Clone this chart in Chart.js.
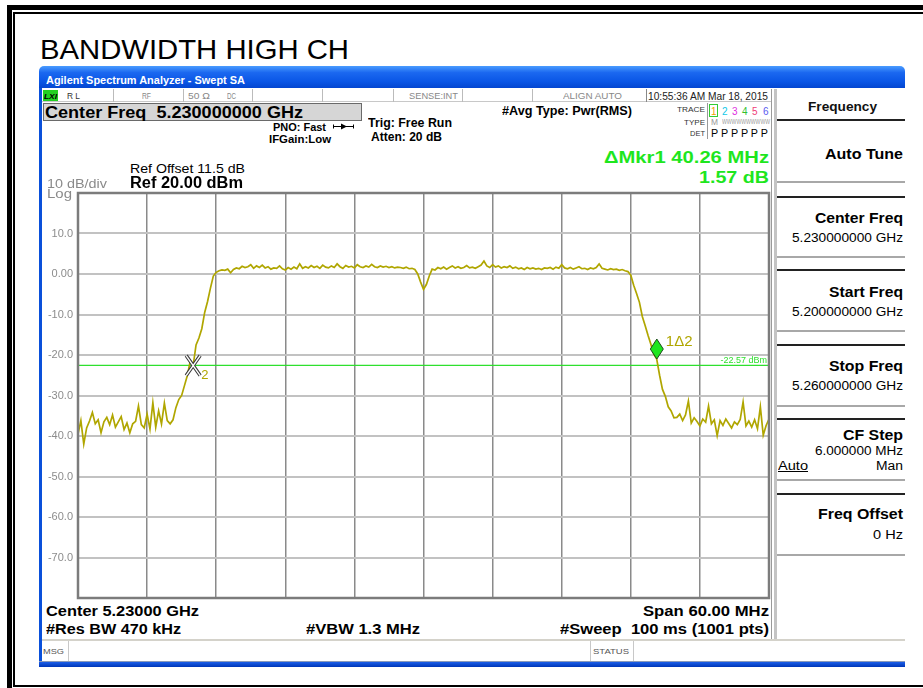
<!DOCTYPE html>
<html>
<head>
<meta charset="utf-8">
<title>Bandwidth High CH</title>
<script src="https://cdn.jsdelivr.net/npm/chart.js@4.4.1/dist/chart.umd.min.js"></script>
<style>
  body { margin: 0; width: 923px; height: 688px; overflow: hidden; background: #fff; position: relative;
         font-family: "Liberation Sans", Arial, sans-serif; }
  .box { position: absolute; box-sizing: border-box; }
  .lbl { position: absolute; line-height: 1; white-space: pre; transform-origin: 0 0; z-index: 3; }
  #sa { position: absolute; left: 40px; top: 190px; z-index: 2; }
</style>
</head>
<body>
<!-- page frame -->
<div class="box" style="left:7px;top:5px;width:940px;height:700px;border:5px solid #000;"></div>
<div class="box" style="left:13px;top:12px;width:930px;height:675px;border:2px solid #000;"></div>

<!-- analyzer window -->
<div class="box" style="left:39px;top:66px;width:866px;height:22px;border-radius:5px 5px 0 0;
     background:linear-gradient(#4a9cff 0%, #1b68f0 30%, #0a56e6 70%, #0346d0 100%);"></div>
<div class="box" style="left:39px;top:88px;width:3px;height:578px;background:#0a50da;"></div>
<div class="box" style="left:39px;top:661px;width:866px;height:6px;border-top:1px solid #8a99b8;
     background:linear-gradient(#1b5ee8, #0036b8);"></div>

<!-- status row -->
<div class="box" style="left:42px;top:89px;width:730px;height:13px;border-bottom:1px solid #c8c8c8;"></div>
<div class="box" style="left:43px;top:90px;width:15px;height:11px;background:#22d022;"></div>
<div class="box" style="left:113px;top:89px;width:1px;height:13px;background:#bbb;"></div>
<div class="box" style="left:183px;top:89px;width:1px;height:13px;background:#bbb;"></div>
<div class="box" style="left:252px;top:89px;width:1px;height:13px;background:#bbb;"></div>
<div class="box" style="left:322px;top:89px;width:1px;height:13px;background:#bbb;"></div>
<div class="box" style="left:393px;top:89px;width:1px;height:13px;background:#bbb;"></div>
<div class="box" style="left:462px;top:89px;width:1px;height:13px;background:#bbb;"></div>
<div class="box" style="left:532px;top:89px;width:1px;height:13px;background:#bbb;"></div>
<div class="box" style="left:646px;top:89px;width:1px;height:13px;background:#888;"></div>

<!-- center freq box -->
<div class="box" style="left:43px;top:103px;width:319px;height:18px;background:#d6d6d6;border:1px solid #6a6a6a;"></div>

<!-- trace info box -->
<div class="box" style="left:707px;top:103px;width:1px;height:36px;background:#999;"></div>
<div class="box" style="left:709px;top:104px;width:9px;height:13px;border:1px solid #3c3;"></div>

<!-- PNO arrow -->
<svg class="box" style="left:332px;top:122px;z-index:3" width="24" height="9">
  <line x1="1" y1="4.5" x2="22" y2="4.5" stroke="#000" stroke-width="1"/>
  <polygon points="9,1.5 15,4.5 9,7.5" fill="#000"/>
  <line x1="1.5" y1="2.5" x2="1.5" y2="6.5" stroke="#000"/>
  <line x1="21.5" y1="2.5" x2="21.5" y2="6.5" stroke="#000"/>
</svg>

<!-- right softkey panel -->
<div class="box" style="left:771px;top:89px;width:1px;height:551px;background:#9a9a9a;"></div>
<div class="box" style="left:774px;top:89px;width:3px;height:551px;background:#c4c4c4;"></div>
<div class="box" style="left:777px;top:89px;width:128px;height:32px;border-bottom:2px solid #222;"></div>
<div class="box" style="left:777px;top:121px;width:128px;height:62px;border-bottom:2px solid #a8a8a8;"></div>
<div class="box" style="left:777px;top:196px;width:128px;height:62px;border-top:2px solid #222;border-bottom:2px solid #a8a8a8;"></div>
<div class="box" style="left:777px;top:269px;width:128px;height:63px;border-top:2px solid #222;border-bottom:2px solid #a8a8a8;"></div>
<div class="box" style="left:777px;top:344px;width:128px;height:63px;border-top:2px solid #222;border-bottom:2px solid #a8a8a8;"></div>
<div class="box" style="left:777px;top:418px;width:128px;height:63px;border-top:2px solid #222;border-bottom:2px solid #a8a8a8;"></div>
<div class="box" style="left:777px;top:493px;width:128px;height:63px;border-top:2px solid #222;border-bottom:2px solid #a8a8a8;"></div>

<!-- message row -->
<div class="box" style="left:42px;top:639px;width:863px;height:2px;background:#d4d2ca;"></div>
<div class="box" style="left:68px;top:641px;width:1px;height:20px;background:#c8c8c8;"></div>
<div class="box" style="left:590px;top:641px;width:1px;height:20px;background:#c8c8c8;"></div>
<div class="box" style="left:633px;top:641px;width:1px;height:20px;background:#c8c8c8;"></div>

<canvas id="sa" width="735" height="412" style="width:735px;height:412px;"></canvas>

<script>
// ---- sweep data ----
const START_MHZ = 5200;
const STOP_MHZ = 5260;
const STEP_MHZ = 0.25;
const GRID_STEP_MHZ = 6;
const REF_LEVEL_DBM = 20;
const BOTTOM_LEVEL_DBM = -80;
const DB_PER_DIV = 10;

// trace 1, one value every 0.25 MHz from 5200 to 5260 MHz
const LEVELS_DBM = [
  -39.5, -36.2, -42.0, -38.0, -36.3, -34.2, -37.0, -36.0, -39.2, -36.5,
  -35.4, -37.2, -34.8, -37.8, -36.5, -35.2, -38.4, -36.8, -39.2, -37.0,
  -36.4, -32.6, -37.2, -38.0, -34.6, -38.3, -31.8, -37.8, -33.8, -37.0,
  -31.9, -36.2, -37.0, -36.0, -33.0, -31.0, -30.0, -27.5, -25.0, -21.5,
  -22.6, -17.5, -15.8, -13.5, -9.5, -6.8, -3.5, -0.5, 0.4, 0.8,
  1.0, 0.9, 1.2, 0.3, 1.1, 1.5, 1.3, 1.9, 1.6, 1.8,
  2.3, 1.4, 2.0, 1.6, 2.2, 1.5, 1.8, 1.2, 1.5, 1.4,
  2.0, 1.3, 1.0, 1.6, 1.2, 1.7, 1.3, 2.5, 1.4, 1.8,
  1.5, 2.1, 1.6, 1.9, 1.4, 2.2, 1.7, 1.5, 2.0, 1.6,
  2.5, 1.8, 1.4, 2.1, 1.7, 1.9, 1.5, 2.3, 1.8, 1.6,
  2.0, 1.7, 2.4, 1.8, 1.6, 2.0, 1.7, 1.9, 1.6, 1.8,
  1.5, 1.7, 1.6, 1.4, 1.7, 1.3, 1.4, 1.1, 0.0, -2.0,
  -3.8, -2.6, -0.5, 1.2, 1.0, 1.6, 1.3, 1.7, 1.2, 1.6,
  2.0, 1.5, 1.8, 1.4, 1.6, 2.1, 1.5, 1.7, 1.4, 1.8,
  2.2, 3.2, 2.0, 1.6, 2.3, 1.7, 2.0, 1.5, 1.8, 1.6,
  2.0, 1.4, 1.7, 1.3, 1.5, 1.1, 1.6, 1.3, 1.5, 1.2,
  1.4, 1.1, 1.5, 1.4, 1.6, 1.2, 1.7, 1.4, 2.3, 1.5,
  1.3, 1.6, 1.2, 1.5, 1.8, 1.3, 1.4, 1.1, 1.5, 1.3,
  1.6, 2.5, 1.4, 1.2, 1.0, 1.3, 1.1, 1.2, 0.9, 1.1,
  0.8, 0.6, -0.3, -2.8, -4.8, -7.0, -10.5, -12.8, -15.2, -17.4,
  -19.8, -21.0, -25.0, -28.5, -30.2, -32.8, -33.8, -35.5, -35.4, -34.6,
  -36.2, -34.8, -31.4, -36.8, -35.5, -36.4, -37.5, -35.8, -36.6, -32.6,
  -37.0, -36.0, -39.9, -36.2, -37.4, -35.8, -36.9, -38.0, -36.5, -37.2,
  -35.9, -31.6, -37.5, -36.3, -37.8, -36.0, -38.2, -32.8, -39.8, -37.4,
  -35.8
];

const MARKER_FREQS_MHZ = [5250.26, 5210.0];   // marker 1 (delta), marker 2 (reference)
const MARKER_LABELS = ['1\u03942', '2'];
const DISPLAY_LINE_DBM = -22.57;

const TRACE_COLOR = '#b0a600';
const READOUT_GREEN = '#1ee61e';
const FONT = '"Liberation Sans", Arial, sans-serif';

// ---- screen annotations: [text, x, baseline, size, weight, color, align, width] ----
const LABELS = [
  ['BANDWIDTH HIGH CH', 40, 58, 28, '400', '#000', 'left', 309],
  ['Agilent Spectrum Analyzer - Swept SA', 46, 83, 10.5, '700', '#fff', 'left', 199],
  ['LXI', 44, 99, 8, 'italic 700', '#000', 'left', 13],
  ['R L', 67, 99, 9, '400', '#333', 'left', 13],
  ['RF', 142, 99, 9, '400', '#888', 'left', 9],
  ['50 \u03a9', 188, 99, 9, '400', '#888', 'left', 22],
  ['DC', 227, 99, 9, '400', '#888', 'left', 9],
  ['SENSE:INT', 409, 99, 9, '400', '#888', 'left', 49],
  ['ALIGN AUTO', 563, 99, 9, '400', '#888', 'left', 59],
  ['10:55:36 AM Mar 18, 2015', 648, 99.5, 10, '400', '#222', 'left', 120],
  ['Center Freq  5.230000000 GHz', 45, 118, 16, '700', '#000', 'left', 258],
  ['PNO: Fast', 273, 130, 11, '700', '#000', 'left', 53],
  ['IFGain:Low', 269, 142, 11, '700', '#000', 'left', 62],
  ['Trig: Free Run', 368, 126, 12, '700', '#000', 'left', 84],
  ['Atten: 20 dB', 371, 140, 12, '700', '#000', 'left', 71],
  ['#Avg Type: Pwr(RMS)', 502, 114, 12, '700', '#000', 'left', 130],
  ['TRACE', 705, 112, 8, '400', '#333', 'right', 28],
  ['TYPE', 705, 125, 8, '400', '#333', 'right', 21],
  ['DET', 705, 136, 8, '400', '#333', 'right', 15],
  ['1', 711, 114, 10, '400', '#f0a000', 'left', null],
  ['2', 722, 114, 10, '400', '#10c8e8', 'left', null],
  ['3', 732, 114, 10, '400', '#e030e0', 'left', null],
  ['4', 742, 114, 10, '400', '#30c030', 'left', null],
  ['5', 752, 114, 10, '400', '#f03c78', 'left', null],
  ['6', 763, 114, 10, '400', '#5a5af0', 'left', null],
  ['M', 711, 125, 9, '400', '#999', 'left', 7],
  ['WWWWWWWWWW', 722, 124, 8, '400', '#999', 'left', 48],
  ['P P P P P P', 711, 136, 10, '400', '#000', 'left', 57],
  ['\u0394Mkr1 40.26 MHz', 769, 163, 16, '700', READOUT_GREEN, 'right', 165],
  ['1.57 dB', 769, 182.5, 16, '700', READOUT_GREEN, 'right', 70],
  ['Ref Offset 11.5 dB', 130, 172.5, 13, '400', '#000', 'left', 115],
  ['Ref 20.00 dBm', 130, 188, 16, '700', '#000', 'left', 113],
  ['10 dB/div', 47, 187.5, 12, '400', '#8a8a8a', 'left', 60],
  ['Log', 47, 197, 12, '400', '#8a8a8a', 'left', 25],
  ['Center 5.23000 GHz', 46, 615, 14, '700', '#000', 'left', 153],
  ['Span 60.00 MHz', 769, 615, 14, '700', '#000', 'right', 126],
  ['#Res BW 470 kHz', 46, 633, 14, '700', '#000', 'left', 135],
  ['#VBW 1.3 MHz', 306, 633, 14, '700', '#000', 'left', 114],
  ['#Sweep  100 ms (1001 pts)', 769, 633, 14, '700', '#000', 'right', 209],
  ['MSG', 43, 654, 8, '400', '#555', 'left', 21],
  ['STATUS', 593, 654, 8, '400', '#555', 'left', 36],
  ['Frequency', 808, 110, 13.5, '700', '#111', 'left', 69],
  ['Auto Tune', 903, 158, 14.5, '700', '#000', 'right', 78],
  ['Center Freq', 903, 222, 14, '700', '#000', 'right', 88],
  ['5.230000000 GHz', 903, 241, 12, '400', '#000', 'right', 111],
  ['Start Freq', 903, 296, 14, '700', '#000', 'right', 74],
  ['5.200000000 GHz', 903, 315, 12, '400', '#000', 'right', 111],
  ['Stop Freq', 903, 370, 14, '700', '#000', 'right', 74],
  ['5.260000000 GHz', 903, 389, 12, '400', '#000', 'right', 111],
  ['CF Step', 903, 439, 14, '700', '#000', 'right', 60],
  ['6.000000 MHz', 903, 454, 12, '400', '#000', 'right', 88],
  ['Auto', 778, 469, 12, '400', '#000', 'left', 30],
  ['Man', 903, 469, 12, '400', '#000', 'right', 27],
  ['Freq Offset', 903, 518, 14, '700', '#000', 'right', 85],
  ['0 Hz', 903, 538, 12, '400', '#000', 'right', 30]
];

function addLabel([text, x, base, size, weight, color, align, width]) {
  const el = document.createElement('div');
  el.className = 'lbl';
  el.textContent = text;
  el.style.font = `${weight} ${size}px ${FONT}`;
  el.style.color = color;
  if (text === 'Auto') el.style.textDecoration = 'underline';
  document.body.appendChild(el);
  const natural = el.getBoundingClientRect().width;
  const w = width || natural;
  el.style.left = (align === 'right' ? x - w : x) + 'px';
  el.style.top = (base - 0.8465 * size) + 'px';   // line-height 1: baseline sits 0.8465em below the top
  if (width) el.style.transform = `scaleX(${width / natural})`;
}
LABELS.forEach(addLabel);

// ---- chart ----
const tracePoints = LEVELS_DBM.map((v, i) => ({ x: START_MHZ + i * STEP_MHZ, y: v }));
const levelAt = f => LEVELS_DBM[Math.round((f - START_MHZ) / STEP_MHZ)];

// markers, display line label and graticule frame
const analyzerOverlay = {
  id: 'analyzerOverlay',
  afterDatasetsDraw(chart) {
    const { ctx, chartArea: a, scales: { x, y } } = chart;
    ctx.save();

    // display line readout
    const dl = y.getPixelForValue(DISPLAY_LINE_DBM);
    ctx.font = `9px ${FONT}`;
    ctx.fillStyle = '#2ee02e';
    ctx.textAlign = 'right';
    ctx.textBaseline = 'alphabetic';
    ctx.fillText(DISPLAY_LINE_DBM.toFixed(2) + ' dBm', a.right - 2, dl - 2);

    // marker 2: reference X
    const x2 = x.getPixelForValue(MARKER_FREQS_MHZ[1]);
    const y2 = y.getPixelForValue(levelAt(MARKER_FREQS_MHZ[1]));
    [['#3a3a3a', 3.5], ['#ffffff', 1.4]].forEach(([c, w]) => {
      ctx.strokeStyle = c;
      ctx.lineWidth = w;
      ctx.beginPath();
      ctx.moveTo(x2 - 7, y2 - 10); ctx.lineTo(x2 + 7, y2 + 10);
      ctx.moveTo(x2 + 7, y2 - 10); ctx.lineTo(x2 - 7, y2 + 10);
      ctx.stroke();
    });
    ctx.font = `13px ${FONT}`;
    ctx.fillStyle = TRACE_COLOR;
    ctx.textAlign = 'left';
    ctx.fillText(MARKER_LABELS[1], x2 + 8, y2 + 13);

    // marker 1: delta diamond, tip sitting on the trace
    const x1 = x.getPixelForValue(MARKER_FREQS_MHZ[0]);
    const y1 = y.getPixelForValue(levelAt(MARKER_FREQS_MHZ[0]));
    ctx.beginPath();
    ctx.moveTo(x1, y1);
    ctx.lineTo(x1 + 6.5, y1 - 10);
    ctx.lineTo(x1, y1 - 20);
    ctx.lineTo(x1 - 6.5, y1 - 10);
    ctx.closePath();
    ctx.fillStyle = '#1ee61e';
    ctx.fill();
    ctx.strokeStyle = '#1c4a1c';
    ctx.lineWidth = 1;
    ctx.stroke();
    ctx.font = `15px ${FONT}`;
    ctx.fillStyle = TRACE_COLOR;
    ctx.fillText(MARKER_LABELS[0], x1 + 9, y1 - 13);

    // graticule frame
    ctx.strokeStyle = '#7c7c7c';
    ctx.lineWidth = 2.5;
    ctx.strokeRect(a.left, a.top, a.right - a.left, a.bottom - a.top);
    ctx.restore();
  }
};

new Chart(document.getElementById('sa'), {
  type: 'line',
  data: {
    datasets: [
      {
        label: 'Trace 1',
        data: tracePoints,
        borderColor: TRACE_COLOR,
        borderWidth: 1.7,
        pointRadius: 0,
        tension: 0
      },
      {
        label: 'Display line',
        data: [{ x: START_MHZ, y: DISPLAY_LINE_DBM }, { x: STOP_MHZ, y: DISPLAY_LINE_DBM }],
        borderColor: '#2ee02e',
        borderWidth: 1.2,
        pointRadius: 0
      }
    ]
  },
  options: {
    responsive: false,
    animation: false,
    devicePixelRatio: 1,
    layout: { padding: { left: 0, top: 3, right: 6, bottom: 4 } },
    plugins: { legend: { display: false }, tooltip: { enabled: false } },
    scales: {
      x: {
        type: 'linear',
        min: START_MHZ,
        max: STOP_MHZ,
        ticks: { display: false, stepSize: GRID_STEP_MHZ },
        grid: { color: '#8a8a8a', lineWidth: 1.5, drawTicks: false },
        border: { display: false },
        afterFit(s) { s.height = 0; s.paddingLeft = 0; s.paddingRight = 0; }
      },
      y: {
        min: BOTTOM_LEVEL_DBM,
        max: REF_LEVEL_DBM,
        ticks: {
          stepSize: DB_PER_DIV,
          color: '#8c8c8c',
          font: { size: 11, family: FONT },
          padding: 5,
          callback: v => (v === REF_LEVEL_DBM || v === BOTTOM_LEVEL_DBM) ? '' : (v === 0 ? '0.00' : v.toFixed(1))
        },
        grid: { color: '#c2c2c2', lineWidth: 2, drawTicks: false },
        border: { display: false },
        afterFit(s) { s.width = 38; s.paddingTop = 0; s.paddingBottom = 0; }
      }
    }
  },
  plugins: [analyzerOverlay]
});
</script>
</body>
</html>
